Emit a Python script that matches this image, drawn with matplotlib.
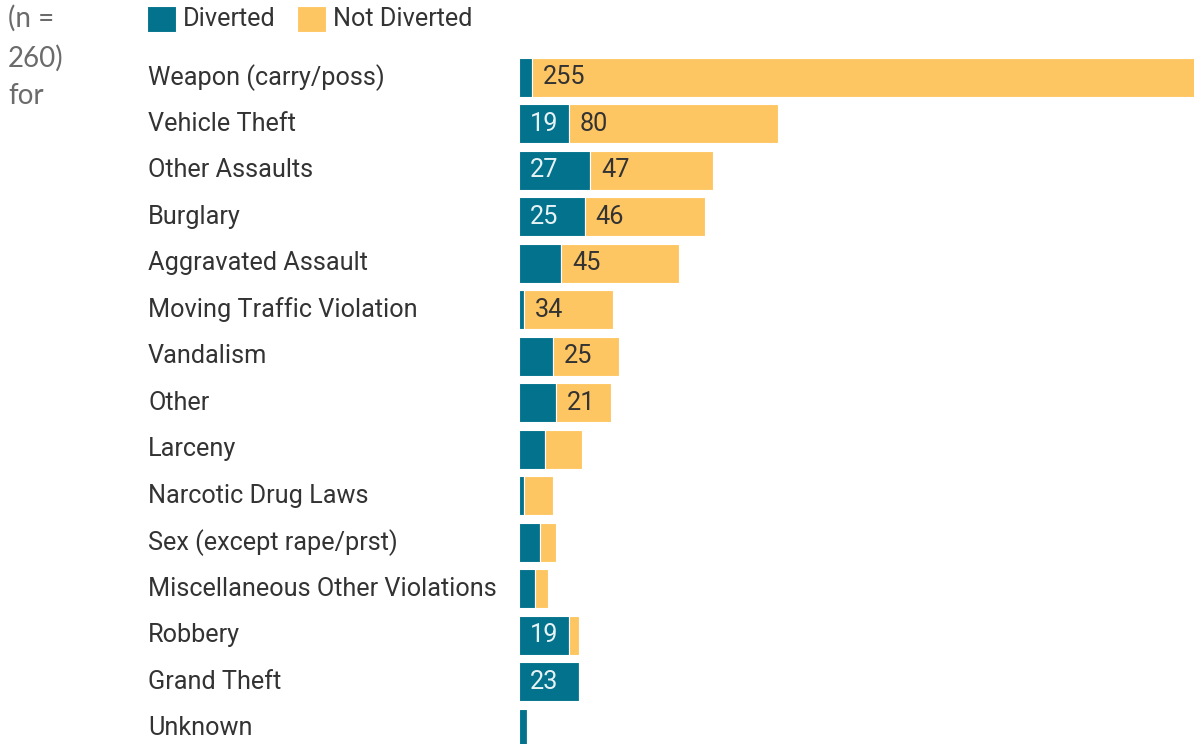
import matplotlib.pyplot as plt
from matplotlib.patches import Rectangle

categories = ['Weapon (carry/poss)', 'Vehicle Theft', 'Other Assaults', 'Burglary',
              'Aggravated Assault', 'Moving Traffic Violation', 'Vandalism', 'Other',
              'Larceny', 'Narcotic Drug Laws', 'Sex (except rape/prst)',
              'Miscellaneous Other Violations', 'Robbery', 'Grand Theft', 'Unknown']
diverted = [5, 19, 27, 25, 16, 2, 13, 14, 10, 2, 8, 6, 19, 23, 3]
not_diverted = [255, 80, 47, 46, 45, 34, 25, 21, 14, 11, 6, 5, 4, 0, 0]
series = ['Diverted', 'Not Diverted']

teal = '#03728c'
yellow = '#fec662'
text_col = '#333333'
min_label = 18
fs = 18.2
W, H = 1194, 744

plt.rcParams['font.family'] = ['Roboto', 'DejaVu Sans']

fig = plt.figure(figsize=(W / 100, H / 100), dpi=100)
# axes starts where the bars start and runs to the figure edge; long bars get clipped
ax = fig.add_axes([519 / W, 0, 1 - 519 / W, 1 - 54 / H])

y = list(range(len(categories)))
ax.barh(y, diverted, height=0.84, color=teal, edgecolor='white', linewidth=0.8)
ax.barh(y, not_diverted, left=diverted, height=0.84, color=yellow,
        edgecolor='white', linewidth=0.8)

ax.set_xlim(0, 675 / 2.62)
ax.set_ylim(len(categories) - 1 + 0.34, -0.5)
ax.axis('off')

for i, (d, nd) in enumerate(zip(diverted, not_diverted)):
    if d >= min_label:
        ax.annotate(str(d), (0, i), xytext=(8, 0), textcoords='offset points',
                    va='center', ha='left', fontsize=fs, color='#e6f2f4')
    if nd >= min_label:
        ax.annotate(str(nd), (d, i), xytext=(8, 0), textcoords='offset points',
                    va='center', ha='left', fontsize=fs, color=text_col)
    # category names sit in the left margin
    ax.annotate(categories[i], (0, i), xycoords=('figure pixels', 'data'),
                xytext=(148, 0), textcoords='offset pixels',
                va='center', ha='left', fontsize=fs, color=text_col)

# legend drawn by hand along the top
for name, col, x0 in zip(series, [teal, yellow], [147, 297]):
    fig.patches.append(Rectangle((x0 / W, 1 - 32 / H), 29 / W, 26 / H,
                                 transform=fig.transFigure, facecolor=col,
                                 edgecolor='white', linewidth=0.8))
    fig.text((x0 + 36) / W, 1 - 19 / H, name, fontsize=fs,
             color=text_col, va='center', ha='left')

for txt, ypix in [('(n =', 18), ('260)', 58), ('for', 96)]:
    fig.text(8 / W, 1 - ypix / H, txt, fontsize=20, color='#6b6b6b',
             va='center', ha='left', family=['Lato', 'DejaVu Sans'])

fig.savefig('out.png', dpi=100)
